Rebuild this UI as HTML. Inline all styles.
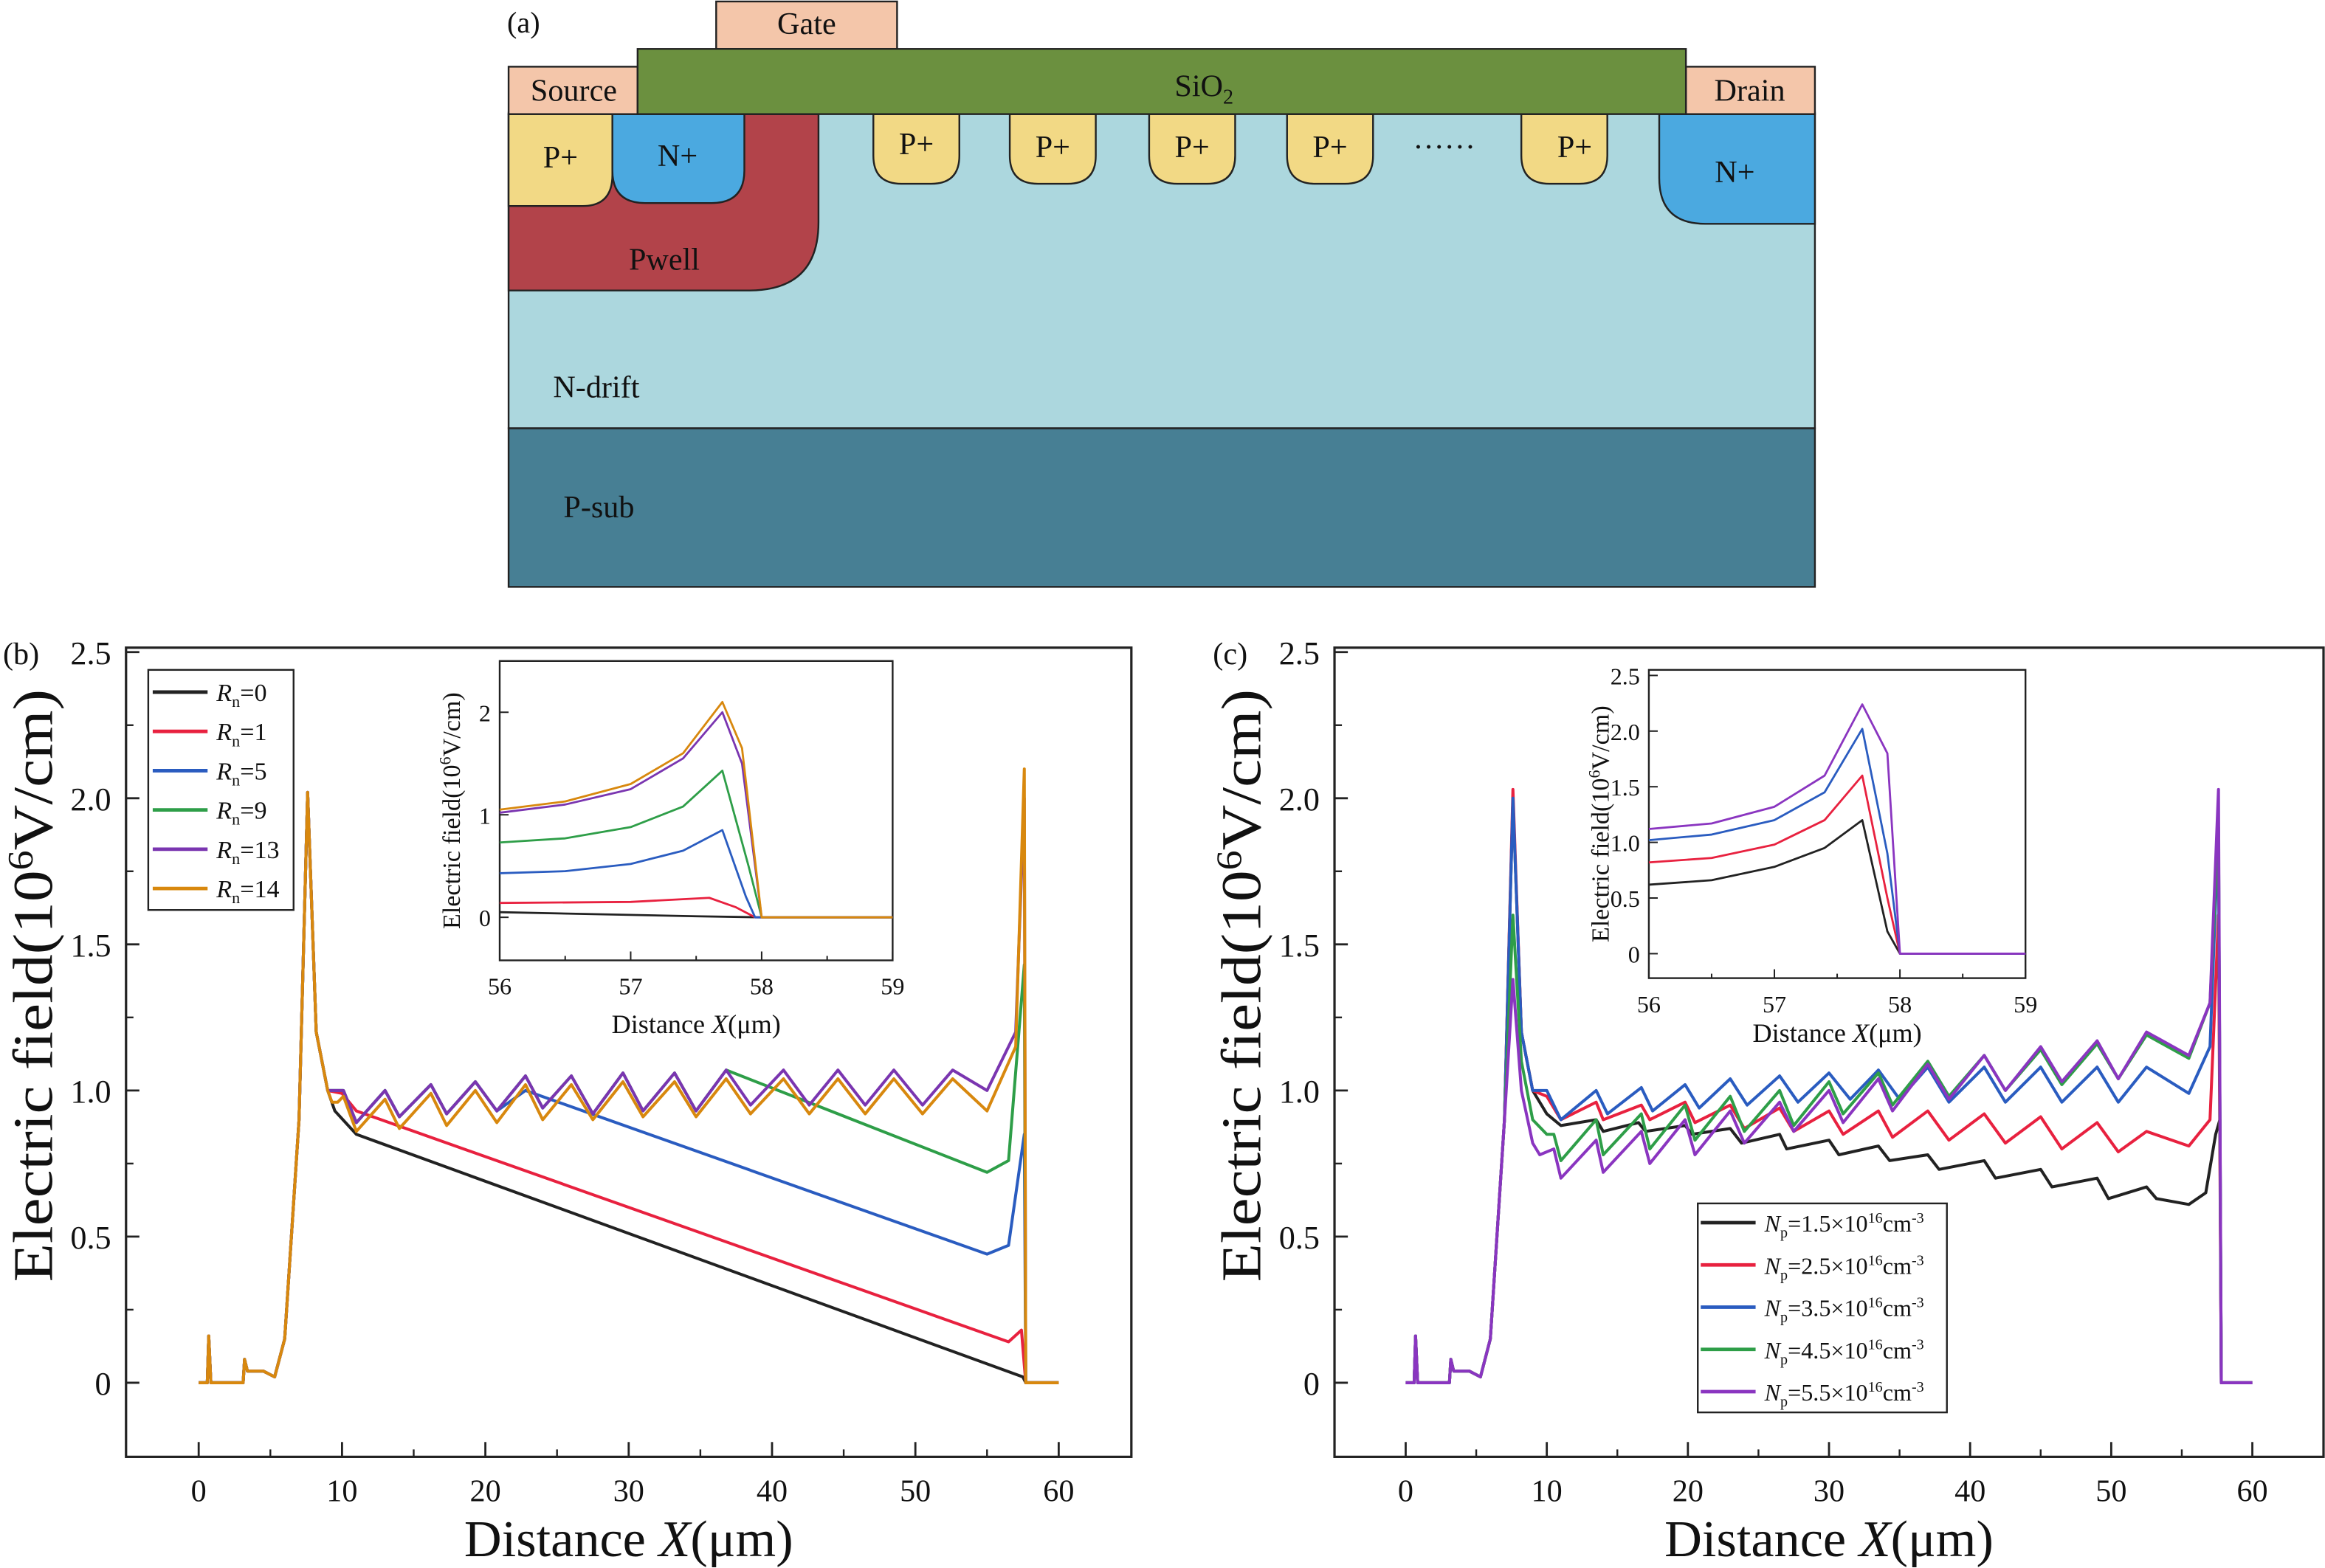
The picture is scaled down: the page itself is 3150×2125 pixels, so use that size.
<!DOCTYPE html>
<html><head><meta charset="utf-8"><style>
html,body{margin:0;padding:0;background:#fff}
svg{display:block}
svg text{font-family:"Liberation Serif","Times New Roman",serif;fill:#111}
</style></head><body>
<svg id="fig" width="3150" height="2125" viewBox="0 0 1568 1058" preserveAspectRatio="none" font-family="Liberation Serif, serif" xmlns="http://www.w3.org/2000/svg">
<g stroke="#222" stroke-width="1.2">
 <text x="342" y="22" font-size="20" stroke="none">(a)</text>
 <rect x="343" y="76" width="881" height="213" fill="#acd7de"/>
 <rect x="343" y="289" width="881" height="107" fill="#477f94"/>
 <path d="M343 77 H552 V150 Q552 196 505 196 H343 Z" fill="#b2434a"/>
 <path d="M343 77 H413 V118 Q413 139 393 139 H343 Z" fill="#f2d985"/>
 <path d="M413 77 H502 V115 Q502 137 480 137 H435 Q413 137 413 115 Z" fill="#4ba9e0"/>
 <path d="M1119 77 H1224 V151 H1150 Q1119 151 1119 120 Z" fill="#4ba9e0"/>
 <g fill="#f2d985">
  <path d="M589 77 H647 V105 Q647 124 628 124 H608 Q589 124 589 105 Z"/>
  <path d="M681 77 H739 V105 Q739 124 720 124 H700 Q681 124 681 105 Z"/>
  <path d="M775 77 H833 V105 Q833 124 814 124 H794 Q775 124 775 105 Z"/>
  <path d="M868 77 H926 V105 Q926 124 907 124 H887 Q868 124 868 105 Z"/>
  <path d="M1026 77 H1084 V105 Q1084 124 1065 124 H1045 Q1026 124 1026 105 Z"/>
 </g>
 <rect x="343" y="45" width="87" height="32" fill="#f4c6aa"/>
 <rect x="1137" y="45" width="87" height="32" fill="#f4c6aa"/>
 <rect x="483" y="1" width="122" height="32" fill="#f4c6aa"/>
 <rect x="430" y="33" width="707" height="44" fill="#6b903f"/>
 <g stroke="none" font-size="21">
  <text x="387" y="68" text-anchor="middle">Source</text>
  <text x="1180" y="68" text-anchor="middle">Drain</text>
  <text x="544" y="23" text-anchor="middle">Gate</text>
  <text x="812" y="65" text-anchor="middle">SiO<tspan font-size="14" dy="5">2</tspan></text>
  <text x="378" y="113" text-anchor="middle">P+</text>
  <text x="457" y="112" text-anchor="middle">N+</text>
  <text x="618" y="104" text-anchor="middle">P+</text>
  <text x="710" y="106" text-anchor="middle">P+</text>
  <text x="804" y="106" text-anchor="middle">P+</text>
  <text x="897" y="106" text-anchor="middle">P+</text>
  <text x="1062" y="106" text-anchor="middle">P+</text>
  <text x="974" y="100" text-anchor="middle">……</text>
  <text x="1170" y="123" text-anchor="middle">N+</text>
  <text x="448" y="182" text-anchor="middle">Pwell</text>
  <text x="373" y="268">N-drift</text>
  <text x="380" y="349">P-sub</text>
 </g>
</g>
<g id="charts"></g>
</svg>
<script>
// ---------- Panel (b) data ----------
const bStartX=[0,0.6,0.7,0.85,3.1,3.2,3.4,4.5,5.3,6,7,7.6,8.2,9];
const bStartY=[0,0,0.16,0,0,0.08,0.04,0.04,0.02,0.15,0.9,2.02,1.2,1.0];
const bRn0X=[9.5,11,57.5,57.7,60];
const bRn0Y=[0.93,0.85,0.02,0,0];
const bRn1X=[10,11,56.5,57.4,57.7,60];
const bRn1Y=[0.99,0.93,0.14,0.18,0,0];
const bRn5X=[10.1,11,13,14,16.2,17.3,19.3,20.8,22.8,55,56.5,57.6,57.7,60];
const bRn5Y=[1.0,0.89,1.0,0.91,1.02,0.92,1.03,0.93,1.0,0.44,0.47,0.85,0,0];
const bRn9X=[10.1,11,13,14,16.2,17.3,19.3,20.8,22.8,24,26,27.5,29.6,31,33.2,34.7,36.8,55,56.5,57.6,57.7,60];
const bRn9Y=[1.0,0.89,1.0,0.91,1.02,0.92,1.03,0.93,1.05,0.94,1.05,0.92,1.06,0.93,1.06,0.93,1.07,0.72,0.76,1.43,0,0];
const bRn13X=[10.1,11,13,14,16.2,17.3,19.3,20.8,22.8,24,26,27.5,29.6,31,33.2,34.7,36.8,38.5,40.8,42.6,44.6,46.5,48.5,50.5,52.6,55,57,57.6,57.7,60];
const bRn13Y=[1.0,0.89,1.0,0.91,1.02,0.92,1.03,0.93,1.05,0.94,1.05,0.92,1.06,0.93,1.06,0.93,1.07,0.95,1.07,0.95,1.07,0.95,1.07,0.95,1.07,1.0,1.2,2.0,0,0];
const bRn14X=[9.3,9.7,10.1,11,13,14,16.2,17.3,19.3,20.8,22.8,24,26,27.5,29.6,31,33.2,34.7,36.8,38.5,40.8,42.6,44.6,46.5,48.5,50.5,52.6,55,57,57.6,57.7,60];
const bRn14Y=[0.96,0.96,0.98,0.86,0.97,0.87,0.99,0.88,1.0,0.89,1.02,0.9,1.02,0.9,1.03,0.91,1.03,0.91,1.04,0.92,1.04,0.92,1.04,0.92,1.04,0.92,1.04,0.93,1.15,2.1,0,0];
const bColors=['#222','#e8213f','#2a5cc0','#2e9e48','#7a35b0','#d8880e'];
const bLegend=['0','1','5','9','13','14'];
// inset (b)
const biX0=[56,57.5,58,59], biY0=[0.05,0.01,0,0];
const biX1=[56,57,57.6,57.8,57.95,59], biY1=[0.14,0.15,0.19,0.1,0,0];
const biX5=[56,56.5,57,57.4,57.7,57.88,57.95,59], biY5=[0.43,0.45,0.52,0.65,0.85,0.2,0,0];
const biX9=[56,56.5,57,57.4,57.7,57.9,58,59], biY9=[0.73,0.77,0.88,1.08,1.43,0.5,0,0];
const biX13=[56,56.5,57,57.4,57.7,57.85,58,59], biY13=[1.02,1.1,1.25,1.55,2.0,1.5,0,0];
const biX14=[56,56.5,57,57.4,57.7,57.85,58,59], biY14=[1.05,1.13,1.3,1.6,2.1,1.65,0,0];
// ---------- Panel (c) data ----------
const cStartX=[0,0.6,0.7,0.85,3.1,3.2,3.4,4.5,5.3,6,7];
const cStartY=[0,0,0.16,0,0,0.08,0.04,0.04,0.02,0.15,0.9];
const cN15X=[7.6,8.2,9,10,11,13.5,14,16.5,17,19.8,20.3,23,23.8,26.5,27,30,30.7,33.5,34.3,37,37.8,41,41.8,45,45.8,49,49.8,52.5,53.2,55.5,56.7,57.4,57.7,57.8,60];
const cN15Y=[2.0,1.2,1.0,0.92,0.88,0.9,0.86,0.89,0.86,0.88,0.85,0.87,0.82,0.85,0.8,0.83,0.78,0.81,0.76,0.78,0.73,0.76,0.7,0.73,0.67,0.7,0.63,0.67,0.63,0.61,0.65,0.85,0.9,0,0];
const cN25X=[7.6,8.2,9,10,11,13.5,14,16.7,17.3,19.8,20.5,23,24,26.5,27.5,30,31,33.5,34.5,37,38.5,41,42.5,45,46.5,49,50.5,52.5,55.5,57,57.6,57.8,60];
const cN25Y=[2.03,1.2,1.0,0.98,0.9,0.96,0.9,0.95,0.9,0.96,0.89,0.95,0.87,0.94,0.86,0.93,0.85,0.93,0.84,0.93,0.83,0.92,0.82,0.91,0.8,0.89,0.79,0.86,0.81,0.9,1.6,0,0];
const cN35X=[7.6,8.2,9,10,11,13.5,14.3,16.7,17.5,19.8,20.8,23,24.2,26.5,27.8,30,31.5,33.5,35,37,38.5,41,42.5,45,46.5,49,50.5,52.5,55.5,57,57.6,57.8,60];
const cN35Y=[2.0,1.2,1.0,1.0,0.9,1.0,0.92,1.01,0.93,1.02,0.94,1.04,0.95,1.05,0.96,1.06,0.97,1.07,0.97,1.08,0.96,1.08,0.96,1.08,0.96,1.08,0.96,1.08,0.99,1.15,1.9,0,0];
const cN45X=[7.6,8.2,9,10,10.5,11,13.5,14,16.7,17.3,19.8,20.5,23,24,26.5,27.5,30,31,33.5,34.5,37,38.5,41,42.5,45,46.5,49,50.5,52.5,55.5,57,57.6,57.8,60];
const cN45Y=[1.6,1.1,0.9,0.85,0.85,0.76,0.9,0.78,0.92,0.8,0.95,0.83,0.98,0.86,1.0,0.88,1.03,0.92,1.06,0.95,1.1,0.98,1.12,1.0,1.14,1.02,1.16,1.04,1.19,1.11,1.3,1.9,0,0];
const cN55X=[7.6,8.2,9,9.5,10.5,11,13.5,14,16.7,17.3,19.8,20.5,23,24,26.5,27.5,30,31,33.5,34.5,37,38.5,41,42.5,45,46.5,49,50.5,52.5,55.5,57,57.6,57.8,60];
const cN55Y=[1.38,1.0,0.82,0.78,0.8,0.7,0.83,0.72,0.86,0.75,0.9,0.78,0.93,0.82,0.96,0.86,1.0,0.89,1.04,0.93,1.09,0.97,1.12,1.0,1.15,1.03,1.17,1.04,1.2,1.12,1.3,2.03,0,0];
const cColors=['#222','#e8213f','#2a5cc0','#2e9e48','#8a35c0'];
const cLegend=['1.5','2.5','3.5','4.5','5.5'];
// inset (c)
const ciX=[56,56.5,57,57.4,57.7,57.9,58,59];
const ciY15=[0.62,0.66,0.78,0.95,1.2,0.2,0,0];
const ciY25=[0.82,0.86,0.98,1.2,1.6,0.5,0,0];
const ciY35=[1.02,1.07,1.2,1.45,2.02,0.9,0,0];
const ciY55=[1.12,1.17,1.32,1.6,2.24,1.8,0,0];
const xTicks=[0,10,20,30,40,50,60];
const yTicks=[0,0.5,1.0,1.5,2.0,2.5];
const yTickLabels=['0','0.5','1.0','1.5','2.0','2.5'];

const NS='http://www.w3.org/2000/svg';
const root=document.getElementById('charts');
function el(tag,attrs,parent){const e=document.createElementNS(NS,tag);for(const k in attrs)e.setAttribute(k,attrs[k]);(parent||root).appendChild(e);return e;}
function axis(x0,x1,px0,px1,y0,y1,py0,py1){return{X:v=>px0+(v-x0)*(px1-px0)/(x1-x0),Y:v=>py0+(v-y0)*(py1-py0)/(y1-y0)};}
function line(ax,xs,ys,color,w,name){
  const d=xs.map((x,i)=>(i?'L':'M')+ax.X(x).toFixed(2)+' '+ax.Y(ys[i]).toFixed(2)).join(' ');
  const p=el('path',{d:d,fill:'none',stroke:color,'stroke-width':w,'stroke-linejoin':'round'});
  
  
}
function txt(x,y,s,size,anchor,name){const t=el('text',{x:x,y:y,'font-size':size,'text-anchor':anchor||'start'});t.textContent=s;return t;}

function mainPanel(px0,px1,pfx,label,lx){
  const ax=axis(0,60,px0,px1,0,2.5,933,440);
  const box=el('rect',{x:pfx.bx0,y:437,width:pfx.bx1-pfx.bx0,height:546,fill:'none',stroke:'#222','stroke-width':1.6});
  
  
  xTicks.forEach(v=>{const X=ax.X(v);el('line',{x1:X,x2:X,y1:983,y2:973,stroke:'#222','stroke-width':1.4});txt(X,1013,String(v),21,'middle',label+'-x-tick-'+v);});
  for(let v=5;v<60;v+=10){const X=ax.X(v);el('line',{x1:X,x2:X,y1:983,y2:978,stroke:'#222','stroke-width':1.2});}
  yTicks.forEach((v,i)=>{const Y=ax.Y(v);el('line',{x1:pfx.bx0,x2:pfx.bx0+9,y1:Y,y2:Y,stroke:'#222','stroke-width':1.4});txt(pfx.bx0-10,Y+8,yTickLabels[i],22,'end',label+'-y-tick-'+yTickLabels[i]);});
  for(let v=0.25;v<2.5;v+=0.5){const Y=ax.Y(v);el('line',{x1:pfx.bx0,x2:pfx.bx0+5,y1:Y,y2:Y,stroke:'#222','stroke-width':1.2});}
  const xt=el('text',{x:(pfx.bx0+pfx.bx1)/2,y:1050,'font-size':35,'text-anchor':'middle'});
  xt.innerHTML='Distance <tspan font-style="italic">X</tspan>(μm)';
  
  
  const yt=el('text',{x:0,y:0,'font-size':38,'text-anchor':'middle',textLength:400,lengthAdjust:'spacingAndGlyphs',transform:`translate(${pfx.bx0-50},665) rotate(-90)`});
  yt.innerHTML='Electric field(10<tspan font-size="24" dy="-13">6</tspan><tspan dy="13">V/cm)</tspan>';
  
  
  txt(lx,448,'('+label+')',21,'start','panel-'+label+'-label');
  return ax;
}
function inset(bx0,bx1,by0,by1,yMin,yMax,yv,yl,name,xtitleY){
  const ax=axis(56,59,bx0,bx1,yMin,yMax,by1,by0);
  el('rect',{x:bx0,y:by0,width:bx1-bx0,height:by1-by0,fill:'#fff',stroke:'#222','stroke-width':1.2});
  [56,57,58,59].forEach(v=>{const X=ax.X(v);el('line',{x1:X,x2:X,y1:by1,y2:by1-6,stroke:'#222'});txt(X,by1+23,String(v),16,'middle',name+'-x-tick-'+v);});
  [56.5,57.5,58.5].forEach(v=>{const X=ax.X(v);el('line',{x1:X,x2:X,y1:by1,y2:by1-3,stroke:'#222'});});
  yv.forEach((v,i)=>{const Y=ax.Y(v);el('line',{x1:bx0,x2:bx0+6,y1:Y,y2:Y,stroke:'#222'});txt(bx0-6,Y+6,yl[i],16,'end',name+'-y-tick-'+yl[i]);});
  const xt=el('text',{x:(bx0+bx1)/2,y:xtitleY,'font-size':18,'text-anchor':'middle'});
  xt.innerHTML='Distance <tspan font-style="italic">X</tspan>(μm)';
  
  
  const yt=el('text',{x:0,y:0,'font-size':17,'text-anchor':'middle',transform:`translate(${bx0-27},${(by0+by1)/2}) rotate(-90)`});
  yt.innerHTML='Electric field(10<tspan font-size="11" dy="-6">6</tspan><tspan dy="6">V/cm)</tspan>';
  
  
  return ax;
}
// Panel b
const axB=mainPanel(134,714,{bx0:85,bx1:763},'b',2);
const bSeries=[[bRn0X,bRn0Y],[bRn1X,bRn1Y],[bRn5X,bRn5Y],[bRn9X,bRn9Y],[bRn13X,bRn13Y],[bRn14X,bRn14Y]];
bSeries.forEach((s,i)=>line(axB,bStartX.concat(s[0]),bStartY.concat(s[1]),bColors[i],2,'b-series-rn-'+bLegend[i]));
const lgB=el('rect',{x:100,y:452,width:98,height:162,fill:'#fff',stroke:'#222','stroke-width':1.2});


bLegend.forEach((l,i)=>{const y=467+i*26.5;el('line',{x1:103,x2:140,y1:y,y2:y,stroke:bColors[i],'stroke-width':2.4});
  const t=el('text',{x:146,y:y+6,'font-size':17});t.innerHTML='<tspan font-style="italic">R</tspan><tspan font-size="11" dy="4">n</tspan><tspan dy="-4">='+l+'</tspan>';
  
  });
const axBi=inset(337,602,446,648,-0.42,2.5,[0,1,2],['0','1','2'],'b-inset',697);
[[biX0,biY0],[biX1,biY1],[biX5,biY5],[biX9,biY9],[biX13,biY13],[biX14,biY14]].forEach((s,i)=>line(axBi,s[0],s[1],bColors[i],1.4,'b-inset-series-rn-'+bLegend[i]));
// Panel c
const axC=mainPanel(948,1519,{bx0:900,bx1:1567},'c',818);
const cSeries=[[cN15X,cN15Y],[cN25X,cN25Y],[cN35X,cN35Y],[cN45X,cN45Y],[cN55X,cN55Y]];
cSeries.forEach((s,i)=>line(axC,cStartX.concat(s[0]),cStartY.concat(s[1]),cColors[i],2,'c-series-np-'+cLegend[i]));
const lgC=el('rect',{x:1145,y:812,width:168,height:141,fill:'#fff',stroke:'#222','stroke-width':1.2});


cLegend.forEach((l,i)=>{const y=825+i*28.5;el('line',{x1:1147,x2:1184,y1:y,y2:y,stroke:cColors[i],'stroke-width':2.4});
  const t=el('text',{x:1190,y:y+6,'font-size':16});t.innerHTML='<tspan font-style="italic">N</tspan><tspan font-size="10" dy="4">p</tspan><tspan dy="-4">='+l+'×10</tspan><tspan font-size="10" dy="-6">16</tspan><tspan dy="6">cm</tspan><tspan font-size="10" dy="-6">-3</tspan>';
  
  });
const axCi=inset(1112,1366,452,660,-0.22,2.55,[0,0.5,1,1.5,2,2.5],['0','0.5','1.0','1.5','2.0','2.5'],'c-inset',703);
[[ciY15,0],[ciY25,1],[ciY35,2],[ciY55,4]].forEach(s=>line(axCi,ciX,s[0],cColors[s[1]],1.4,'c-inset-series-np-'+cLegend[s[1]]));
</script>
</body></html>
